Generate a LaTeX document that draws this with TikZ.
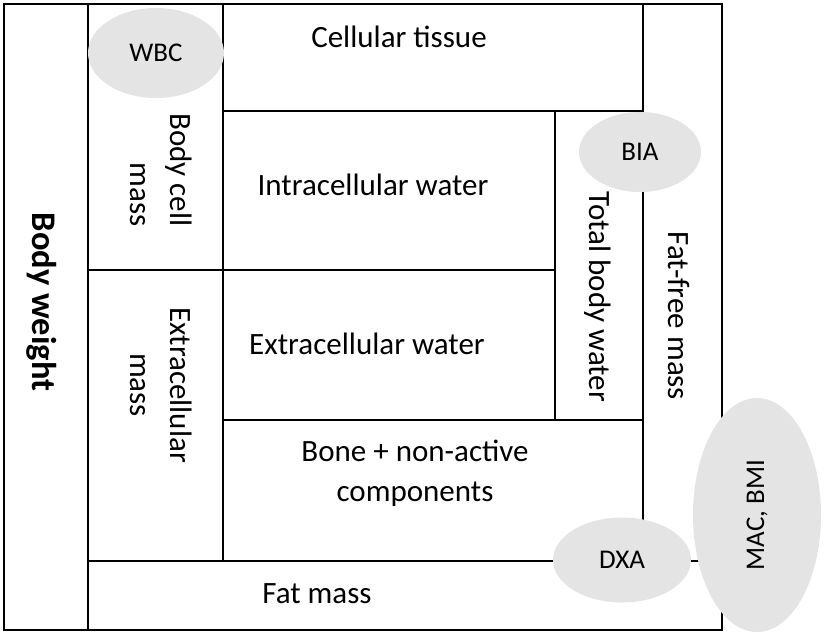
\documentclass[tikz,border=0pt]{standalone}
\usepackage{fontspec}
\setmainfont{Carlito}
\usetikzlibrary{shapes.geometric}
\definecolor{ellgray}{RGB}{228,228,228}
\begin{document}
\begin{tikzpicture}[x=1pt,y=-1pt,
  boxr/.style={draw, line width=2pt, inner sep=0pt, outer sep=0pt},
  ell/.style={ellipse, fill=ellgray, inner sep=0pt, font=\fontsize{27}{32}\selectfont},
  lbl/.style={inner sep=0pt, font=\fontsize{31}{40}\selectfont}]
\useasboundingbox (0,0) rectangle (829,635);
% boxes
\node[boxr, minimum width=84pt,  minimum height=626pt] (bw)   at (46,317) {};
\node[boxr, minimum width=135pt, minimum height=266pt] (bcm)  at (155.5,137) {};
\node[boxr, minimum width=135pt, minimum height=291pt] (ecm)  at (155.5,415.5) {};
\node[boxr, minimum width=420pt, minimum height=107pt] (ct)   at (433,57.5) {};
\node[boxr, minimum width=332pt, minimum height=159pt] (icw)  at (389,190.5) {};
\node[boxr, minimum width=332pt, minimum height=150pt] (ecw)  at (389,345) {};
\node[boxr, minimum width=88pt,  minimum height=309pt] (tbw)  at (599,265.5) {};
\node[boxr, minimum width=420pt, minimum height=141pt] (bone) at (433,490.5) {};
\node[boxr, minimum width=79pt,  minimum height=557pt] (ffm)  at (682.5,282.5) {};
\node[boxr, minimum width=634pt, minimum height=69pt]  (fat)  at (405,595.5) {};
% labels
\node[lbl, rotate=-90, font=\fontsize{34.5}{40}\selectfont\bfseries] (tbw1) at (42,302) {Body weight};
\node[lbl, rotate=-90, align=right] (tbcm) at (161,170) {Body cell\\mass};
\node[lbl, rotate=-90, align=center] (tecm) at (161,385) {Extracellular\\mass};
\node[lbl, anchor=base] (tct) at (399,47) {Cellular tissue};
\node[lbl, anchor=base] (ticw) at (373,195) {Intracellular water};
\node[lbl, anchor=base] (tecw) at (367,354) {Extracellular water};
\node[lbl, align=center] (tbone) at (415,473) {Bone + non-active\\components};
\node[lbl, rotate=-90] (ttbw) at (598,297) {Total body water};
\node[lbl, rotate=-90] (tffm) at (679,316) {Fat-free mass};
\node[lbl, anchor=base] (tfat) at (317,603) {Fat mass};
% ellipses
\node[ell, minimum width=136pt, minimum height=90pt] (wbc) at (156,53) {WBC};
\node[ell, minimum width=122pt, minimum height=80pt] (bia) at (640,152) {BIA};
\node[ell, minimum width=138pt, minimum height=85pt] (dxa) at (622,560) {DXA};
\node[ell, rotate=90, minimum width=234pt, minimum height=128pt] (mac) at (757,515) {MAC, BMI};
\end{tikzpicture}
\end{document}
